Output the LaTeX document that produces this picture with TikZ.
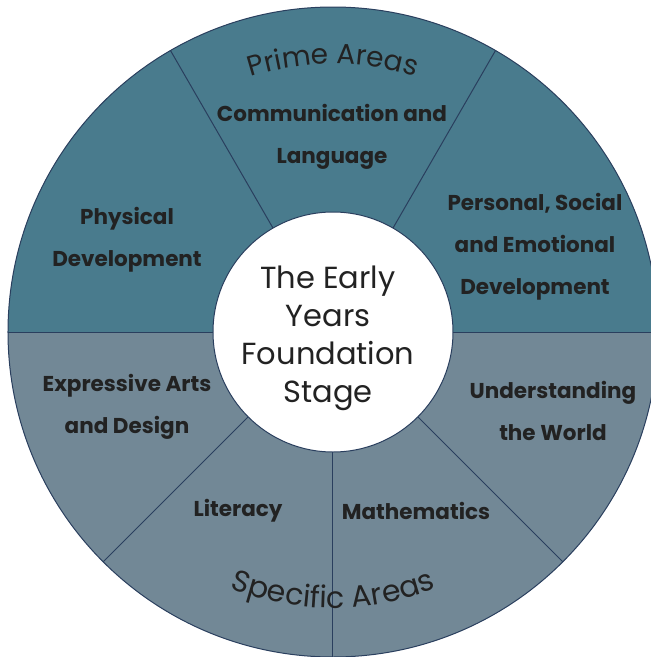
\documentclass[tikz,border=0pt]{standalone}
\usepackage{fontspec}
\setmainfont{Poppins}
\usetikzlibrary{decorations.text}
\definecolor{prime}{HTML}{497B8D}
\definecolor{specific}{HTML}{728896}
\definecolor{edge}{HTML}{2A3F5E}
\definecolor{ink}{HTML}{222222}
\newcommand\arcfont{\fontsize{28}{28}\selectfont}
\newcommand\arcfontb{\fontsize{30}{30}\selectfont}
\tikzset{
  sector/.style={draw=edge, line width=1pt, line join=round},
  area/.style={text=ink, font=\bfseries\fontsize{21.5}{42}\selectfont, align=center, inner sep=0pt},
  hub/.style={circle, fill=white, draw=edge, line width=1pt, minimum size=240pt, inner sep=0pt},
  title/.style={text=ink, font=\fontsize{30.5}{38}\selectfont, align=center, inner sep=0pt},
  arclabel/.style 2 args={decorate, decoration={text along path, text align=center, text color=ink,
    text={|#1|#2}}},
}
\begin{document}
\begin{tikzpicture}[x=1pt,y=1pt]
  \def\R{325}
  \useasboundingbox (-333,-325) rectangle (318,332);
  \coordinate (O) at (0,0);
  \fill[prime] (O) -- (0:\R) arc[start angle=0,end angle=180,radius=\R] -- cycle;
  \fill[specific] (O) -- (180:\R) arc[start angle=180,end angle=360,radius=\R] -- cycle;
  \foreach \a in {0,60,120,180,225,270,315}
    \draw[sector] (O) -- (\a:\R);
  \draw[sector] (O) circle (\R);
  \node[hub] (hub) at (O) {};
  \node[title] (eyfs) at (-5,-6) {The Early\\Years\\Foundation\\Stage};
  % prime areas
  \path[arclabel={\arcfont}{Prime Areas}] (120:268) arc[start angle=120,end angle=60,radius=268];
  \node[area] (cl) at (-1,195) {Communication and\\Language};
  \node[area] (pd) at (-206,92) {Physical\\Development};
  \node[area] (pse) at (202,85) {Personal, Social\\and Emotional\\Development};
  % specific areas
  \path[arclabel={\arcfontb}{Specific Areas}] (225:276) arc[start angle=225,end angle=315,radius=276];
  \node[area] (ead) at (-206,-75) {Expressive Arts\\and Design};
  \node[area] (uw) at (220,-79) {Understanding\\the World};
  \node[area] (lit) at (-95,-179) {Literacy};
  \node[area] (mat) at (83,-179) {Mathematics};
\end{tikzpicture}
\end{document}
